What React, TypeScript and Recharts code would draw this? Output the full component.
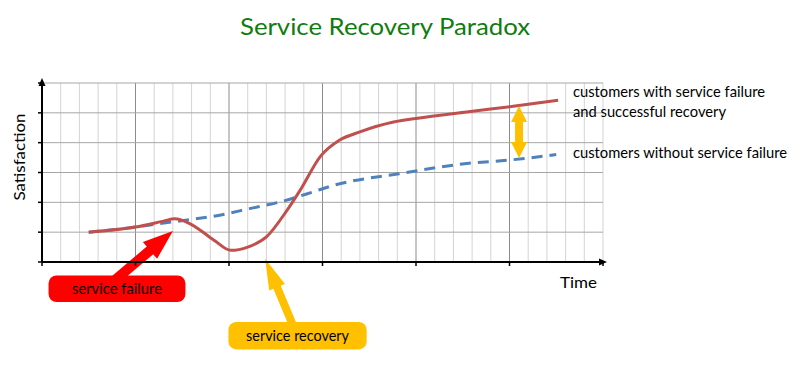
import { LineChart, Line, XAxis, YAxis, ReferenceLine, ReferenceArea, ReferenceDot } from 'recharts';

// time runs 0..30 (one unit per minor grid column), satisfaction 0..6
const recoveryX = [2.5, 5.0, 6.5, 7.1, 7.9, 9.2, 10.1, 11.0, 12.0, 13.1, 13.8, 14.9, 15.9, 17.0, 18.8, 20.0, 22.7, 25.2, 27.6];
const recoveryY = [1.0, 1.17, 1.37, 1.45, 1.29, 0.73, 0.39, 0.5, 0.84, 1.73, 2.4, 3.55, 4.08, 4.36, 4.69, 4.81, 5.03, 5.22, 5.42];

const noFailureX = [2.5, 5.0, 6.3, 7.9, 9.5, 11.1, 12.7, 14.5, 15.6, 19.1, 22.7, 25.2, 27.5];
const noFailureY = [1.0, 1.17, 1.29, 1.42, 1.57, 1.79, 2.01, 2.35, 2.57, 2.96, 3.3, 3.43, 3.6];

const xGrid = Array.from({ length: 30 }, (_, i) => i + 1);
const yGrid = [1, 2, 3, 4, 5, 6];
const xTicks = [0, 5, 10, 15, 20, 25, 30];
const yTicks = [0, 1, 2, 3, 4, 5, 6];

// annotation anchors, in chart units
const failureArrow = [{ x: 3.76, y: -0.68 }, { x: 7.0, y: 1.04 }];
const recoveryArrow = [{ x: 13.42, y: -2.12 }, { x: 11.93, y: 0.11 }];
const gapArrow = [{ x: 25.51, y: 3.49 }, { x: 25.51, y: 5.23 }];
const failureBox = { x1: 0.35, x2: 7.67, y1: -1.34, y2: -0.45 };
const recoveryBox = { x1: 9.97, x2: 17.36, y1: -2.93, y2: -2.01 };

const recoveryData = recoveryX.map((x, i) => ({ x, y: recoveryY[i] }));
const noFailureData = noFailureX.map((x, i) => ({ x, y: noFailureY[i] }));

const FONT = 'Lato, "Open Sans", sans-serif';

const blockArrow = (x1: number, y1: number, x2: number, y2: number, shaft: number, head: number, headLen: number, both = false) => {
    const len = Math.hypot(x2 - x1, y2 - y1);
    const ux = (x2 - x1) / len;
    const uy = (y2 - y1) / len;
    const nx = -uy;
    const ny = ux;
    const p = (x: number, y: number) => `${x},${y}`;
    const bx = x2 - ux * headLen;
    const by = y2 - uy * headLen;
    if (!both) {
        return [
            p(x1 + nx * shaft, y1 + ny * shaft),
            p(bx + nx * shaft, by + ny * shaft),
            p(bx + nx * head, by + ny * head),
            p(x2, y2),
            p(bx - nx * head, by - ny * head),
            p(bx - nx * shaft, by - ny * shaft),
            p(x1 - nx * shaft, y1 - ny * shaft),
        ].join(' ');
    }
    const ax = x1 + ux * headLen;
    const ay = y1 + uy * headLen;
    return [
        p(x1, y1),
        p(ax + nx * head, ay + ny * head),
        p(ax + nx * shaft, ay + ny * shaft),
        p(bx + nx * shaft, by + ny * shaft),
        p(bx + nx * head, by + ny * head),
        p(x2, y2),
        p(bx - nx * head, by - ny * head),
        p(bx - nx * shaft, by - ny * shaft),
        p(ax - nx * shaft, ay - ny * shaft),
        p(ax - nx * head, ay - ny * head),
    ].join(' ');
};

const boxShape = (fill: string, text: string, textLen: number) => (props: any) => {
    const { x, y, width, height } = props;
    return (
        <g>
            <rect x={x} y={y} width={width} height={height} rx={8} ry={8} fill={fill} />
            <text
                x={x + width / 2}
                y={y + height / 2 + 5}
                textAnchor="middle"
                fontFamily={FONT}
                fontSize={15}
                fill="#000"
                textLength={textLen}
                lengthAdjust="spacingAndGlyphs"
            >
                {text}
            </text>
        </g>
    );
};

const blank = () => '';

export default function App() {
    return (
        <div style={{ position: 'absolute', left: 0, top: 0, width: 800, height: 368, background: '#fff' }}>
            <LineChart width={800} height={368} margin={{ top: 83, right: 197, bottom: 105, left: 41 }}>
                <XAxis
                    type="number"
                    dataKey="x"
                    domain={[0, 30]}
                    ticks={xTicks}
                    allowDataOverflow
                    height={1}
                    tickFormatter={blank}
                    tickSize={4}
                    tickLine={{ stroke: '#000', strokeWidth: 1.5 }}
                    axisLine={{ stroke: '#000', strokeWidth: 2 }}
                />
                <YAxis
                    type="number"
                    dataKey="y"
                    domain={[0, 6]}
                    ticks={yTicks}
                    allowDataOverflow
                    width={1}
                    tickFormatter={blank}
                    tickSize={4}
                    tickLine={{ stroke: '#000', strokeWidth: 1.5 }}
                    axisLine={{ stroke: '#000', strokeWidth: 2 }}
                />
                {xGrid.map((v) => (
                    <ReferenceLine
                        key={`vx${v}`}
                        x={v}
                        stroke={v % 5 === 0 && v !== 30 ? '#8c8c8c' : '#d4d4d4'}
                        strokeWidth={1}
                    />
                ))}
                {yGrid.map((v) => (
                    <ReferenceLine key={`hy${v}`} y={v} stroke="#a6a6a6" strokeWidth={1} />
                ))}
                <ReferenceLine x={0} stroke="#000" strokeWidth={2} />
                <ReferenceLine y={0} stroke="#000" strokeWidth={2} />
                <Line
                    data={noFailureData}
                    dataKey="y"
                    type="monotone"
                    stroke="#4F81BD"
                    strokeWidth={3}
                    strokeDasharray="11 7"
                    dot={false}
                    isAnimationActive={false}
                />
                <Line
                    data={recoveryData}
                    dataKey="y"
                    type="monotone"
                    stroke="#C0504D"
                    strokeWidth={3}
                    dot={false}
                    isAnimationActive={false}
                />
                <ReferenceDot
                    x={0}
                    y={6}
                    ifOverflow="visible"
                    shape={(p: any) => <polygon points={`${p.cx - 3.5},${p.cy + 3} ${p.cx},${p.cy - 5} ${p.cx + 3.5},${p.cy + 3}`} fill="#000" />}
                />
                <ReferenceDot
                    x={30}
                    y={0}
                    ifOverflow="visible"
                    shape={(p: any) => <polygon points={`${p.cx - 4},${p.cy - 3.5} ${p.cx + 4},${p.cy} ${p.cx - 4},${p.cy + 3.5}`} fill="#000" />}
                />
                <ReferenceLine
                    segment={failureArrow}
                    ifOverflow="visible"
                    shape={(p: any) => <polygon points={blockArrow(p.x1, p.y1, p.x2, p.y2, 5, 11, 30)} fill="#FF0000" />}
                />
                <ReferenceLine
                    segment={recoveryArrow}
                    ifOverflow="visible"
                    shape={(p: any) => <polygon points={blockArrow(p.x1, p.y1, p.x2, p.y2, 4, 8.5, 31)} fill="#FFC000" />}
                />
                <ReferenceLine
                    segment={gapArrow}
                    ifOverflow="visible"
                    shape={(p: any) => <polygon points={blockArrow(p.x1, p.y1, p.x2, p.y2, 4, 8, 16, true)} fill="#FFC000" />}
                />
                <ReferenceArea {...failureBox} ifOverflow="visible" shape={boxShape('#FF0000', 'service failure', 90)} />
                <ReferenceArea {...recoveryBox} ifOverflow="visible" shape={boxShape('#FFC000', 'service recovery', 103)} />
            </LineChart>
            <svg width={800} height={368} style={{ position: 'absolute', left: 0, top: 0, pointerEvents: 'none' }}>
                <text x={240} y={35} fontFamily={FONT} fontSize={24} fill="#107c10" textLength={290} lengthAdjust="spacingAndGlyphs">
                    Service Recovery Paradox
                </text>
                <text
                    x={25}
                    y={157}
                    transform="rotate(-90, 25, 157)"
                    textAnchor="middle"
                    fontFamily={FONT}
                    fontSize={16}
                    fill="#000"
                    textLength={87}
                    lengthAdjust="spacingAndGlyphs"
                >
                    Satisfaction
                </text>
                <text x={560} y={288} fontFamily={FONT} fontSize={16} fill="#000" textLength={37} lengthAdjust="spacingAndGlyphs">
                    Time
                </text>
                <text x={573} y={96.5} fontFamily={FONT} fontSize={16} fill="#000" textLength={192} lengthAdjust="spacingAndGlyphs">
                    customers with service failure
                </text>
                <text x={573} y={116.5} fontFamily={FONT} fontSize={16} fill="#000" textLength={153} lengthAdjust="spacingAndGlyphs">
                    and successful recovery
                </text>
                <text x={573} y={158} fontFamily={FONT} fontSize={16} fill="#000" textLength={214} lengthAdjust="spacingAndGlyphs">
                    customers without service failure
                </text>
            </svg>
        </div>
    );
}
